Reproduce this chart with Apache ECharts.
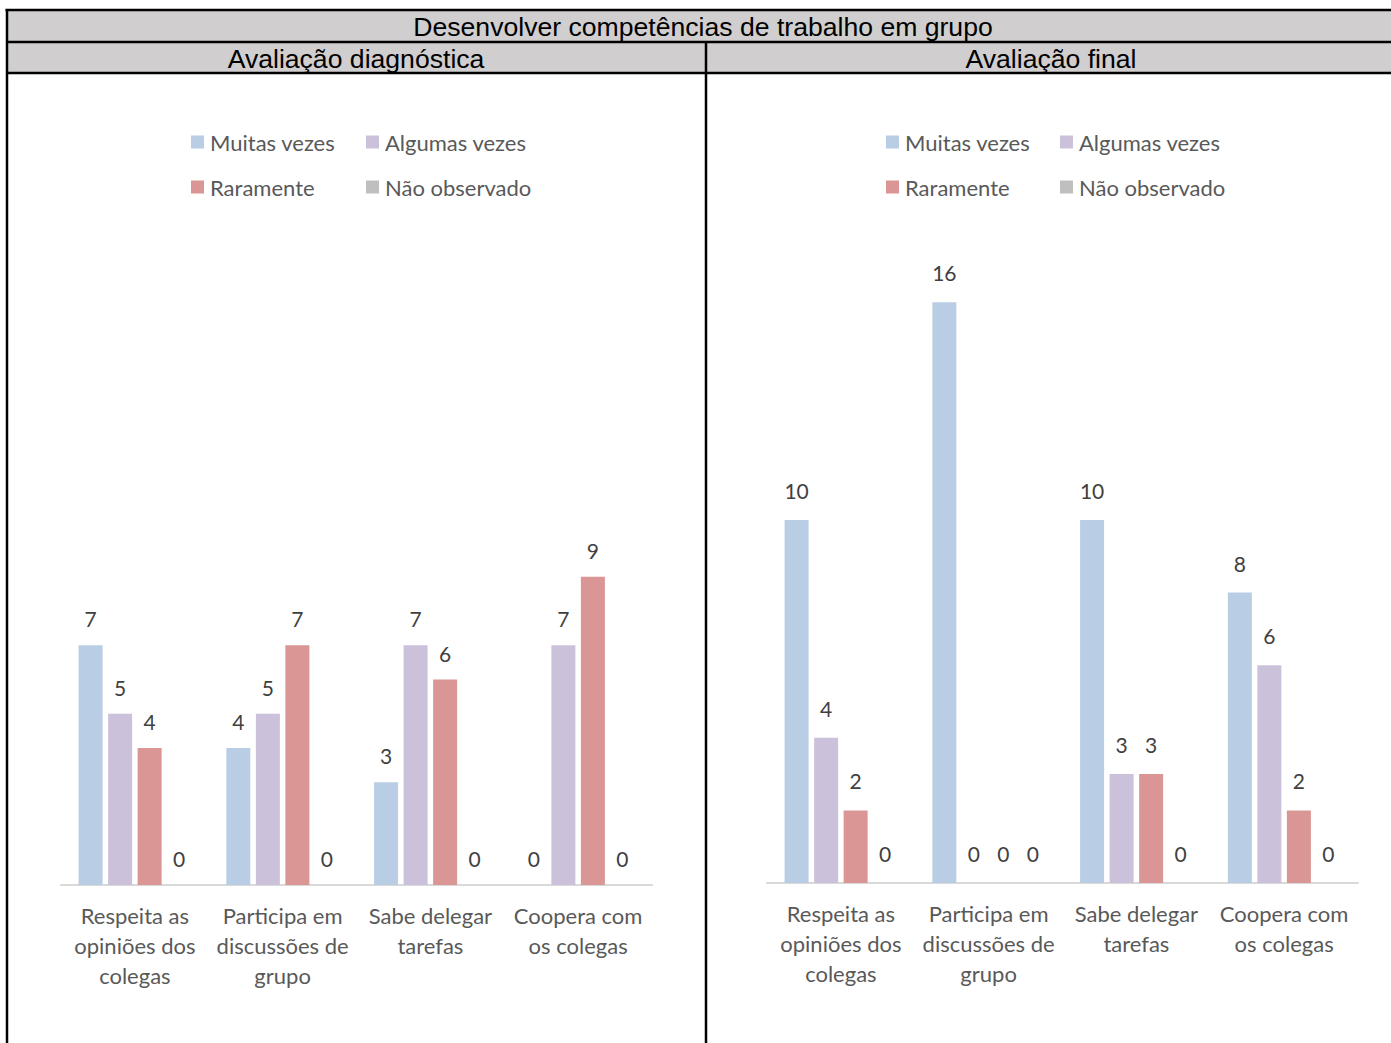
<!DOCTYPE html>
<html>
<head>
<meta charset="utf-8">
<style>
  html, body { margin: 0; padding: 0; background: #ffffff; }
  #chart { width: 1391px; height: 1043px; }
</style>
<script src="https://cdn.jsdelivr.net/npm/echarts@6/dist/echarts.min.js"></script>
</head>
<body>
<div id="chart"></div>
<script>
// Skill categories (x axis)
const categories = [
  'Respeita as\nopiniões dos\ncolegas',
  'Participa em\ndiscussões de\ngrupo',
  'Sabe delegar\ntarefas',
  'Coopera com\nos colegas'
];

const seriesNames = ['Muitas vezes', 'Algumas vezes', 'Raramente', 'Não observado'];
const seriesColors = ['#b9cde5', '#ccc1da', '#d99694', '#bfbfbf'];

// Avaliação diagnóstica
const diagMuitas   = [7, 4, 3, 0];
const diagAlgumas  = [5, 5, 7, 7];
const diagRaramente = [4, 7, 6, 9];
const diagNao      = [0, 0, 0, 0];

// Avaliação final
const finalMuitas   = [10, 16, 10, 8];
const finalAlgumas  = [4, 0, 3, 6];
const finalRaramente = [2, 0, 3, 2];
const finalNao      = [0, 0, 0, 0];

const mainTitle = 'Desenvolver competências de trabalho em grupo';
const panelTitles = ['Avaliação diagnóstica', 'Avaliação final'];

const FONT = 'Lato, "Open Sans", sans-serif';
const HEAD_FONT = '"Liberation Sans", Arial, sans-serif';

const chart = echarts.init(document.getElementById('chart'), null, { renderer: 'svg' });

function xAxisFor(gridIndex) {
  return {
    type: 'category',
    gridIndex: gridIndex,
    data: categories,
    axisLine: { show: true, lineStyle: { color: '#d9d9d9', width: 2 } },
    axisTick: { show: false },
    axisLabel: {
      interval: 0, color: '#595959', fontFamily: FONT, fontSize: 22,
      lineHeight: 30, margin: 15, align: 'center'
    },
    splitLine: { show: false }
  };
}
function yAxisFor(gridIndex) {
  return {
    type: 'value', gridIndex: gridIndex, min: 0, max: 20, show: false,
    splitLine: { show: false }
  };
}
function barSeries(name, color, values, axisIndex, dist) {
  return {
    type: 'bar', name: name, data: values,
    xAxisIndex: axisIndex, yAxisIndex: axisIndex,
    barWidth: 24, barGap: '23%',
    itemStyle: { color: color },
    label: {
      show: true, position: 'top', distance: dist,
      color: '#404040', fontFamily: FONT, fontSize: 21
    },
    emphasis: { disabled: true },
    animation: false
  };
}
function legendColumn(names, left, top) {
  return {
    data: names, orient: 'vertical', left: left, top: top, padding: 0,
    itemWidth: 13, itemHeight: 13, icon: 'rect', itemGap: 21,
    selectedMode: false,
    textStyle: { color: '#595959', fontFamily: FONT, fontSize: 22, lineHeight: 24, padding: [0, 0, 0, 1] }
  };
}

const lineStyle = { stroke: '#000000', lineWidth: 2.5 };

const option = {
  backgroundColor: '#ffffff',
  color: seriesColors,
  animation: false,
  grid: [
    { left: 61, width: 591, top: 200, height: 685 },
    { left: 767, width: 591, top: 157, height: 726 }
  ],
  xAxis: [xAxisFor(0), xAxisFor(1)],
  yAxis: [yAxisFor(0), yAxisFor(1)],
  legend: [
    legendColumn([seriesNames[0], seriesNames[2]], 191, 130),
    legendColumn([seriesNames[1], seriesNames[3]], 366, 130),
    legendColumn([seriesNames[0], seriesNames[2]], 886, 130),
    legendColumn([seriesNames[1], seriesNames[3]], 1060, 130)
  ],
  series: [
    barSeries(seriesNames[0], seriesColors[0], diagMuitas, 0, 16),
    barSeries(seriesNames[1], seriesColors[1], diagAlgumas, 0, 16),
    barSeries(seriesNames[2], seriesColors[2], diagRaramente, 0, 16),
    barSeries(seriesNames[3], seriesColors[3], diagNao, 0, 16),
    barSeries(seriesNames[0], seriesColors[0], finalMuitas, 1, 19),
    barSeries(seriesNames[1], seriesColors[1], finalAlgumas, 1, 19),
    barSeries(seriesNames[2], seriesColors[2], finalRaramente, 1, 19),
    barSeries(seriesNames[3], seriesColors[3], finalNao, 1, 19)
  ],
  graphic: [
    // header rows
    { type: 'rect', shape: { x: 7, y: 10, width: 1384, height: 63 }, style: { fill: '#d0cece' }, silent: true },
    { type: 'line', shape: { x1: 5.5, y1: 10, x2: 1391, y2: 10 }, style: lineStyle, silent: true },
    { type: 'line', shape: { x1: 7, y1: 42, x2: 1391, y2: 42 }, style: lineStyle, silent: true },
    { type: 'line', shape: { x1: 7, y1: 73, x2: 1391, y2: 73 }, style: lineStyle, silent: true },
    { type: 'line', shape: { x1: 7, y1: 9, x2: 7, y2: 1043 }, style: lineStyle, silent: true },
    { type: 'line', shape: { x1: 706, y1: 42, x2: 706, y2: 1043 }, style: lineStyle, silent: true },
    {
      type: 'text', x: 703, y: 27, silent: true,
      style: { text: mainTitle, fill: '#000000', font: '26.6px ' + HEAD_FONT, textAlign: 'center', textVerticalAlign: 'middle' }
    },
    {
      type: 'text', x: 356, y: 59, silent: true,
      style: { text: panelTitles[0], fill: '#000000', font: '26.6px ' + HEAD_FONT, textAlign: 'center', textVerticalAlign: 'middle' }
    },
    {
      type: 'text', x: 1051, y: 59, silent: true,
      style: { text: panelTitles[1], fill: '#000000', font: '26.6px ' + HEAD_FONT, textAlign: 'center', textVerticalAlign: 'middle' }
    }
  ]
};

chart.setOption(option);
</script>
</body>
</html>
